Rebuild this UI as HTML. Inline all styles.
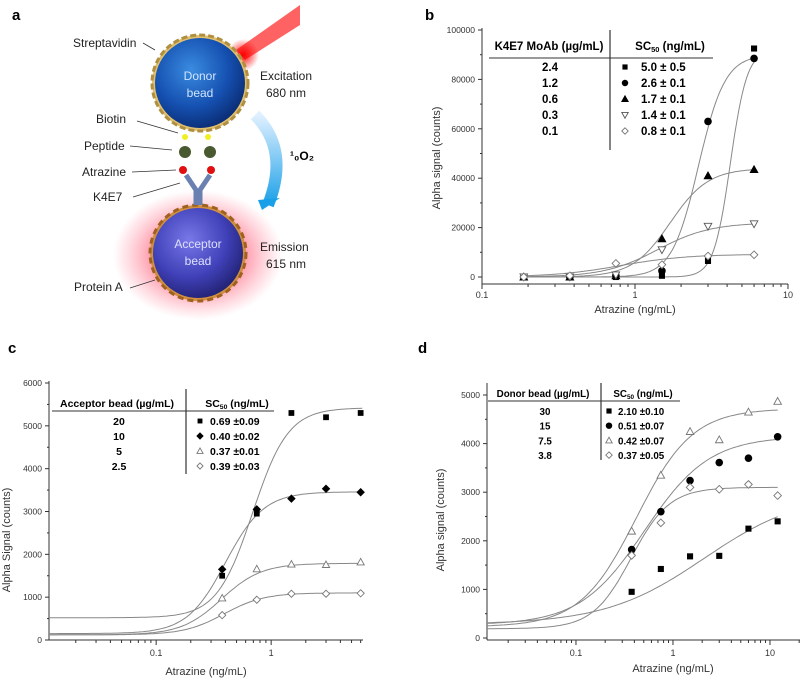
<!DOCTYPE html>
<html><head><meta charset="utf-8">
<style>
body{margin:0;background:#fff;width:800px;height:681px;overflow:hidden;font-family:"Liberation Sans",sans-serif}
svg{position:absolute;left:0;top:0}
</style></head>
<body>
<svg id="fig" width="800" height="681" viewBox="0 0 800 681" font-family="Liberation Sans, sans-serif">
<defs>
<radialGradient id="donorG" cx="0.4" cy="0.35" r="0.7"><stop offset="0" stop-color="#3a8be0"/><stop offset="0.6" stop-color="#1550b0"/><stop offset="1" stop-color="#0a2a70"/></radialGradient>
<radialGradient id="accG" cx="0.4" cy="0.35" r="0.7"><stop offset="0" stop-color="#7878e8"/><stop offset="0.6" stop-color="#4040b8"/><stop offset="1" stop-color="#202070"/></radialGradient>
<radialGradient id="glowG" cx="0.5" cy="0.5" r="0.5"><stop offset="0.45" stop-color="#ff3050" stop-opacity="0.6"/><stop offset="1" stop-color="#ff6080" stop-opacity="0"/></radialGradient>
<radialGradient id="flareG" cx="0.5" cy="0.5" r="0.5"><stop offset="0" stop-color="#ff0000"/><stop offset="1" stop-color="#ff0000" stop-opacity="0"/></radialGradient>
<linearGradient id="arrG" x1="0" y1="0" x2="0" y2="1"><stop offset="0" stop-color="#e0f0ff"/><stop offset="1" stop-color="#1aa0e8"/></linearGradient>
</defs>
<g id="panelA">
<text x="12" y="20" font-size="15" font-weight="bold">a</text>
<ellipse cx="198" cy="255" rx="85" ry="65" fill="url(#glowG)"/>
<polygon points="300,5 300,25 245,60 236,50" fill="#ff2020" opacity="0.7"/>
<circle cx="243" cy="55" r="16" fill="url(#flareG)"/>
<circle cx="200" cy="83" r="48" fill="#e0c070" stroke="#b09040" stroke-dasharray="6 3" stroke-width="3"/>
<circle cx="200" cy="83" r="45" fill="url(#donorG)"/>
<text x="200" y="80" font-size="12" fill="#cfe4ff" text-anchor="middle">Donor</text>
<text x="200" y="97" font-size="12" fill="#cfe4ff" text-anchor="middle">bead</text>
<circle cx="198" cy="253" r="48" fill="#d09040" stroke="#a06020" stroke-dasharray="6 4" stroke-width="3"/>
<circle cx="198" cy="253" r="45" fill="url(#accG)"/>
<text x="198" y="248" font-size="12" fill="#dde0ff" text-anchor="middle">Acceptor</text>
<text x="198" y="265" font-size="12" fill="#dde0ff" text-anchor="middle">bead</text>
<g stroke="#6a80b0" stroke-width="5" fill="none">
<path d="M196 205 L196 190 L186 175"/><path d="M200 205 L200 190 L210 175"/></g>
<circle cx="183" cy="170" r="4" fill="#e01010"/>
<circle cx="211" cy="170" r="4" fill="#e01010"/>
<circle cx="185" cy="152" r="6" fill="#4a5a30"/>
<circle cx="210" cy="152" r="6" fill="#4a5a30"/>
<circle cx="185" cy="137" r="3" fill="#f0f020"/><circle cx="208" cy="137" r="3" fill="#f0f020"/>
<path d="M255 115 Q290 150 268 205" stroke="url(#arrG)" stroke-width="12" fill="none"/>
<polygon points="258,200 280,198 262,210" fill="#1aa0e8"/>
<text x="290" y="160" font-size="12" font-weight="bold">¹₀O₂</text>
<g font-size="12" fill="#222">
<text x="73" y="47">Streptavidin</text>
<text x="260" y="80">Excitation</text><text x="266" y="97">680 nm</text>
<text x="96" y="123">Biotin</text><text x="84" y="150">Peptide</text><text x="82" y="176">Atrazine</text><text x="93" y="201">K4E7</text>
<text x="260" y="251">Emission</text><text x="266" y="268">615 nm</text>
<text x="74" y="291">Protein A</text>
</g>
<g stroke="#333" stroke-width="0.8">
<line x1="143" y1="43" x2="155" y2="50"/><line x1="137" y1="121" x2="178" y2="133"/><line x1="130" y1="146" x2="172" y2="150"/><line x1="132" y1="172" x2="176" y2="170"/><line x1="133" y1="197" x2="180" y2="183"/><line x1="130" y1="288" x2="155" y2="280"/>
</g>
</g>
<g id="charts"></g>
</svg>
<script>
// ---- Panel b data ----
const bX = [0.1875, 0.375, 0.75, 1.5, 3, 6];
const bSeries24 = [0, 0, 0, 500, 6500, 92500];
const bSeries12 = [0, 0, 500, 2500, 63000, 88500];
const bSeries06 = [0, 0, 500, 15500, 41000, 43500];
const bSeries03 = [0, 0, 800, 11000, 20500, 21500];
const bSeries01 = [0, 500, 5500, 5000, 8500, 9000];
const bFits = [[0,92000,4.2,8],[0,90000,2.6,5],[0,44000,1.7,3.5],[0,22000,1.4,2.5],[0,9200,0.8,2]];
const bConc = ["2.4","1.2","0.6","0.3","0.1"];
const bSC50 = ["5.0 ± 0.5","2.6 ± 0.1","1.7 ± 0.1","1.4 ± 0.1","0.8 ± 0.1"];
const bYTicks = [0,20000,40000,60000,80000,100000];
const bXTicks = [0.1,1,10];
// ---- Panel c data ----
const cX = [0.375, 0.75, 1.5, 3, 6];
const cSeries20 = [1500, 2950, 5300, 5200, 5300];
const cSeries10 = [1650, 3050, 3300, 3530, 3450];
const cSeries5 = [980, 1660, 1770, 1760, 1820];
const cSeries25 = [580, 940, 1080, 1080, 1090];
const cFits = [[520,5420,0.69,2.8],[150,3460,0.40,2.6],[120,1790,0.37,2.5],[120,1100,0.39,2.5]];
const cConc = ["20","10","5","2.5"];
const cSC50 = ["0.69 ±0.09","0.40 ±0.02","0.37 ±0.01","0.39 ±0.03"];
const cYTicks = [0,1000,2000,3000,4000,5000,6000];
const cXTicks = [0.1,1];
// ---- Panel d data ----
const dX = [0.375, 0.75, 1.5, 3, 6, 12];
const dSeries30 = [950, 1420, 1680, 1690, 2250, 2400];
const dSeries15 = [1820, 2600, 3240, 3610, 3700, 4140];
const dSeries75 = [2200, 3350, 4250, 4080, 4650, 4870];
const dSeries38 = [1700, 2370, 3100, 3060, 3160, 2930];
const dFits = [[280,3000,2.1,0.85],[270,4150,0.51,1.3],[230,4720,0.42,1.5],[190,3100,0.37,2.2]];
const dConc = ["30","15","7.5","3.8"];
const dSC50 = ["2.10 ±0.10","0.51 ±0.07","0.42 ±0.07","0.37 ±0.05"];
const dYTicks = [0,1000,2000,3000,4000,5000];
const dXTicks = [0.1,1,10];

const NS="http://www.w3.org/2000/svg";
const root=document.getElementById('charts');
function mk(tag,attrs,parent){const e=document.createElementNS(NS,tag);for(const k in attrs)e.setAttribute(k,attrs[k]);(parent||root).appendChild(e);return e;}
function txt(s,attrs,parent){const e=mk('text',attrs,parent);e.textContent=s;return e;}
function hill(p,x){return p[0]+(p[1]-p[0])/(1+Math.pow(p[2]/x,p[3]));}
function marker(g,type,x,y,s){
  let e;
  if(type==='sq'){e=mk('rect',{x:x-s*0.8,y:y-s*0.8,width:s*1.6,height:s*1.6,fill:'#000'},g);}
  else if(type==='ci'){e=mk('circle',{cx:x,cy:y,r:s,fill:'#000'},g);}
  else if(type==='tu'||type==='tuo'){e=mk('polygon',{points:`${x},${y-s} ${x-s},${y+s*0.8} ${x+s},${y+s*0.8}`,fill:type==='tu'?'#000':'#fff',stroke:type==='tu'?'#000':'#777','stroke-width':0.9},g);}
  else if(type==='td'){e=mk('polygon',{points:`${x},${y+s} ${x-s},${y-s*0.8} ${x+s},${y-s*0.8}`,fill:'#fff',stroke:'#555','stroke-width':0.9},g);}
  else {e=mk('polygon',{points:`${x},${y-s} ${x+s},${y} ${x},${y+s} ${x-s},${y}`,fill:type==='df'?'#000':'#fff',stroke:type==='df'?'#000':'#777','stroke-width':0.9},g);}
  return e;
}
function panel(cfg){
  const g=mk('g',{});
  
  
  const X=v=>cfg.x0+(Math.log10(v)-Math.log10(cfg.xmin))*cfg.dec;
  const Y=v=>cfg.y0-(v-0)*(cfg.y0-cfg.yTop)/cfg.ymaxTick;
  const lab=txt(cfg.label,{x:cfg.labX,y:cfg.labY,'font-size':15,'font-weight':'bold'},g);
  
  
  const ax=mk('g',{stroke:'#333','stroke-width':1},g);
  
  
  mk('line',{x1:cfg.x0,y1:cfg.axY,x2:cfg.x0,y2:cfg.axTop},ax);
  mk('line',{x1:cfg.x0,y1:cfg.axY,x2:cfg.xEnd,y2:cfg.axY},ax);
  cfg.yTicks.forEach((t,i)=>{
    mk('line',{x1:cfg.x0-4,y1:Y(t),x2:cfg.x0,y2:Y(t)},ax);
    if(i<cfg.yTicks.length-1) mk('line',{x1:cfg.x0-2,y1:(Y(t)+Y(cfg.yTicks[i+1]))/2,x2:cfg.x0,y2:(Y(t)+Y(cfg.yTicks[i+1]))/2},ax);
    const tl=txt(String(t),{x:cfg.x0-7,y:Y(t)+3,'font-size':8.5,'text-anchor':'end',fill:'#333',stroke:'none'},g);
    
    
  });
  for(let d=Math.floor(Math.log10(cfg.xmin));d<2;d++){for(let m=1;m<10;m++){const v=m*Math.pow(10,d);const px=X(v);if(px<cfg.x0-0.5||px>cfg.xEnd)continue;mk('line',{x1:px,y1:cfg.axY,x2:px,y2:cfg.axY+(m===1?5:3)},ax);}}
  cfg.xTicks.forEach(t=>{const tl=txt(String(t),{x:X(t),y:cfg.axY+cfg.xtlOff,'font-size':9,'text-anchor':'middle',fill:'#333'},g);
    
    });
  const xt=txt('Atrazine (ng/mL)',{x:cfg.xtX,y:cfg.xtY,'font-size':11,'text-anchor':'middle',fill:'#333'},g);
  
  
  const yt=txt(cfg.ytitle,{x:0,y:0,'font-size':11,'text-anchor':'middle',fill:'#333',transform:`translate(${cfg.ytX},${cfg.ytY}) rotate(-90)`},g);
  
  
  cfg.fits.forEach(p=>{
    let d='';const a=Math.log10(cfg.fitFrom),b=Math.log10(cfg.fitTo);
    for(let i=0;i<=120;i++){const v=Math.pow(10,a+(b-a)*i/120);d+=(i?'L':'M')+X(v).toFixed(1)+' '+Y(hill(p,v)).toFixed(1);}
    const pth=mk('path',{d:d,fill:'none',stroke:'#888','stroke-width':1},g);
    
    
  });
  cfg.series.forEach((s,si)=>{
    const sg=mk('g',{},g);
    
    
    s.forEach((v,i)=>{const m=marker(sg,cfg.mk[si],X(cfg.xs[i]),Y(v),cfg.ms);
      
      });
  });
  const T=cfg.tab;const lg=mk('g',{},g);
  
  
  txt(cfg.h1,{x:T.h1x,y:T.hy,'font-size':T.fs,'font-weight':'bold','text-anchor':'middle'},lg);
  const h2=txt('',{x:T.h2x,y:T.hy,'font-size':T.fs,'font-weight':'bold','text-anchor':'middle'},lg);
  h2.innerHTML='SC<tspan font-size="'+(T.fs*0.65)+'" dy="2">50</tspan><tspan dy="-2"> (ng/mL)</tspan>';
  mk('line',{x1:T.lx1,y1:T.ly,x2:T.lx2,y2:T.ly,stroke:'#333','stroke-width':1},lg);
  mk('line',{x1:T.vx,y1:T.vy1,x2:T.vx,y2:T.vy2,stroke:'#333','stroke-width':1.2},lg);
  cfg.conc.forEach((c,i)=>{
    const y=T.r0+i*T.rs;
    const e1=txt(c,{x:T.c1,y:y+4,'font-size':T.fs,'font-weight':'bold','text-anchor':'middle'},lg);
    
    
    marker(lg,cfg.mk[i],T.mx,y,cfg.ms*0.85);
    txt(cfg.sc[i],{x:T.tx,y:y+4,'font-size':T.fs,'font-weight':'bold'},lg);
  });
}
panel({name:'chart-b',label:'b',labX:425,labY:20,x0:482,xmin:0.1,dec:153,xEnd:788,y0:277,yTop:30,ymaxTick:100000,axY:284,axTop:28,xtlOff:14,
  yTicks:bYTicks,xTicks:bXTicks,xtX:635,xtY:313,ytitle:'Alpha signal (counts)',ytX:440,ytY:158,
  fits:bFits,fitFrom:0.19,fitTo:6,xs:bX,series:[bSeries24,bSeries12,bSeries06,bSeries03,bSeries01],mk:['sq','ci','tu','td','do'],ms:3.8,conc:bConc,sc:bSC50,
  h1:'K4E7 MoAb (µg/mL)',tab:{fs:11.5,c1:550,h1x:549,h2x:670,hy:50,ly:58,lx1:489,lx2:713,vx:610,vy1:30,vy2:150,r0:67,rs:16,mx:625,tx:641}});
panel({name:'chart-c',label:'c',labX:8,labY:353,x0:49,xmin:0.0117,dec:115,xEnd:363,y0:640,yTop:383,ymaxTick:6000,axY:640,axTop:381,xtlOff:16,
  yTicks:cYTicks,xTicks:cXTicks,xtX:206,xtY:675,ytitle:'Alpha Signal (counts)',ytX:10,ytY:540,
  fits:cFits,fitFrom:0.0117,fitTo:6.2,xs:cX,series:[cSeries20,cSeries10,cSeries5,cSeries25],mk:['sq','df','tuo','do'],ms:3.6,conc:cConc,sc:cSC50,
  h1:'Acceptor bead (µg/mL)',tab:{fs:10.5,c1:119,h1x:117,h2x:237,hy:407,ly:411,lx1:52,lx2:274,vx:186,vy1:389,vy2:474,r0:421,rs:15,mx:200,tx:210}});
panel({name:'chart-d',label:'d',labX:418,labY:353,x0:487,xmin:0.0121,dec:97,xEnd:800,y0:638,yTop:395,ymaxTick:5000,axY:640,axTop:383,xtlOff:16,
  yTicks:dYTicks,xTicks:dXTicks,xtX:673,xtY:672,ytitle:'Alpha signal (counts)',ytX:444,ytY:520,
  fits:dFits,fitFrom:0.0121,fitTo:12,xs:dX,series:[dSeries30,dSeries15,dSeries75,dSeries38],mk:['sq','ci','tuo','do'],ms:3.8,conc:dConc,sc:dSC50,
  h1:'Donor bead (µg/mL)',tab:{fs:9.8,c1:545,h1x:543,h2x:643,hy:397,ly:401,lx1:488,lx2:680,vx:601,vy1:383,vy2:460,r0:411,rs:14.7,mx:609,tx:618}});
</script>
</body></html>
